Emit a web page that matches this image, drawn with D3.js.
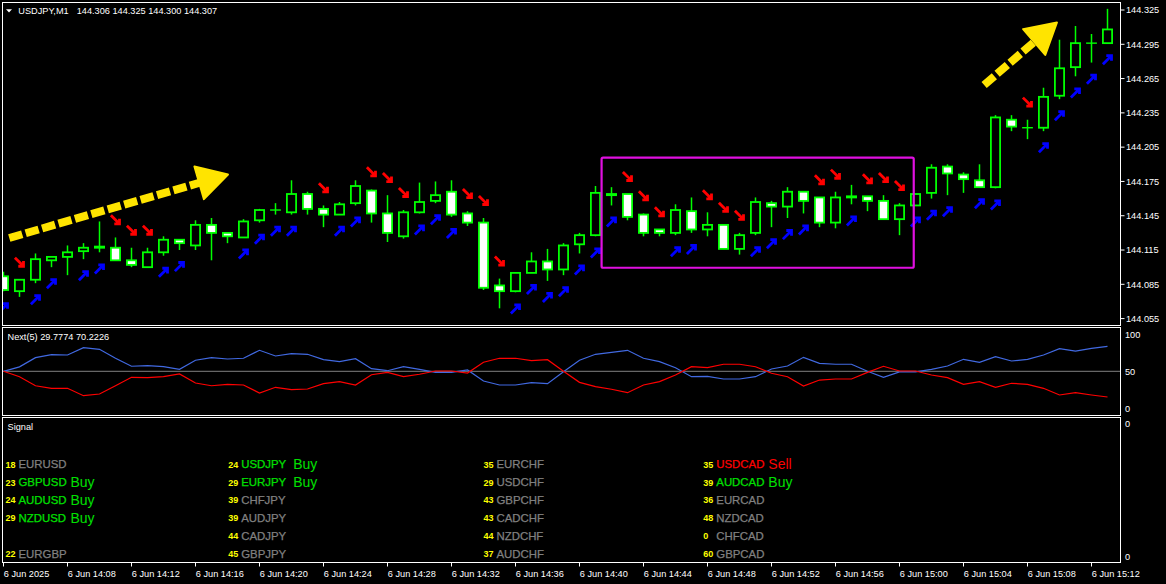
<!DOCTYPE html>
<html><head><meta charset="utf-8">
<script src="https://cdn.jsdelivr.net/npm/d3@7"></script>
<style>html,body{margin:0;padding:0;background:#000;}svg{display:block;}</style>
</head><body>
<svg id="c" width="1166" height="584"></svg>
<script>
// ---------------- DATA ----------------
const symbolLabel = "USDJPY,M1";
const headerOHLC = ["144.306", "144.325", "144.300", "144.307"];
const times = ["14:04","14:05","14:06","14:07","14:08","14:09","14:10","14:11","14:12","14:13",
"14:14","14:15","14:16","14:17","14:18","14:19","14:20","14:21","14:22","14:23",
"14:24","14:25","14:26","14:27","14:28","14:29","14:30","14:31","14:32","14:33",
"14:34","14:35","14:36","14:37","14:38","14:39","14:40","14:41","14:42","14:43",
"14:44","14:45","14:46","14:47","14:48","14:49","14:50","14:51","14:52","14:53",
"14:54","14:55","14:56","14:57","14:58","14:59","15:00","15:01","15:02","15:03",
"15:04","15:05","15:06","15:07","15:08","15:09","15:10","15:11","15:12","15:13"];
const open  = [144.092,144.079,144.089,144.106,144.109,144.114,144.117,144.117,144.106,144.100,
144.113,144.124,144.119,144.137,144.130,144.126,144.141,144.150,144.148,144.164,
144.151,144.146,144.156,144.167,144.147,144.127,144.148,144.158,144.166,144.147,
144.139,144.084,144.079,144.095,144.105,144.098,144.120,144.128,144.163,144.164,
144.146,144.133,144.130,144.149,144.133,144.137,144.116,144.130,144.156,144.153,
144.166,144.161,144.139,144.161,144.162,144.158,144.142,144.154,144.165,144.188,
144.181,144.176,144.170,144.229,144.222,144.222,144.250,144.275,144.296,144.296];
const high  = [144.096,144.089,144.112,144.109,144.119,144.121,144.140,144.126,144.117,144.117,
144.127,144.124,144.141,144.143,144.130,144.142,144.151,144.156,144.176,144.166,
144.154,144.157,144.176,144.168,144.163,144.150,144.174,144.175,144.176,144.149,
144.143,144.090,144.095,144.113,144.116,144.121,144.130,144.171,144.170,144.164,
144.147,144.133,144.155,144.161,144.148,144.137,144.130,144.161,144.158,144.170,
144.166,144.161,144.166,144.172,144.162,144.163,144.156,144.164,144.190,144.190,
144.183,144.190,144.233,144.233,144.229,144.257,144.299,144.311,144.304,144.326];
const low   = [144.079,144.074,144.086,144.100,144.093,144.107,144.113,144.106,144.100,144.100,
144.110,144.115,144.115,144.106,144.121,144.126,144.139,144.146,144.146,144.146,
144.135,144.146,144.154,144.139,144.122,144.125,144.147,144.156,144.144,144.136,
144.080,144.064,144.078,144.095,144.088,144.093,144.112,144.127,144.154,144.141,
144.127,144.127,144.128,144.130,144.127,144.116,144.111,144.128,144.135,144.143,
144.147,144.135,144.134,144.155,144.149,144.142,144.128,144.154,144.160,144.163,
144.165,144.170,144.169,144.219,144.212,144.219,144.247,144.267,144.279,144.296];
const close = [144.080,144.089,144.107,144.109,144.113,144.117,144.118,144.106,144.102,144.113,
144.124,144.121,144.137,144.130,144.127,144.140,144.150,144.150,144.164,144.151,
144.146,144.155,144.171,144.147,144.130,144.148,144.157,144.163,144.146,144.139,
144.082,144.079,144.095,144.105,144.098,144.119,144.128,144.165,144.164,144.144,
144.130,144.130,144.150,144.133,144.137,144.116,144.128,144.157,144.153,144.166,
144.158,144.139,144.161,144.162,144.158,144.142,144.154,144.164,144.187,144.182,
144.177,144.170,144.231,144.223,144.222,144.249,144.274,144.296,144.296,144.308];
const sellSignals = [1,7,8,9,20,23,24,25,29,30,31,39,40,41,44,45,46,51,52,54,55,56,64];
const buySignals  = [0,2,3,5,6,10,11,15,16,17,18,21,22,26,27,28,32,33,34,35,36,37,38,42,43,47,48,49,50,53,57,58,59,61,62,65,66,67,68,69];
const priceTicks = [144.325,144.295,144.265,144.235,144.205,144.175,144.145,144.115,144.085,144.055];
const tickTimes  = ["14:04","14:08","14:12","14:16","14:20","14:24","14:28","14:32","14:36","14:40","14:44","14:48","14:52","14:56","15:00","15:04","15:08","15:12"];
const tickLabels = ["6 Jun 2025","6 Jun 14:08","6 Jun 14:12","6 Jun 14:16","6 Jun 14:20","6 Jun 14:24","6 Jun 14:28","6 Jun 14:32","6 Jun 14:36","6 Jun 14:40","6 Jun 14:44","6 Jun 14:48","6 Jun 14:52","6 Jun 14:56","6 Jun 15:00","6 Jun 15:04","6 Jun 15:08","6 Jun 15:12"];
// annotation objects (bar index, price)
const rangeBox = {i0: 37.38, i1: 56.89, pTop: 144.1958, pBot: 144.0995};
const trendArrows = [
  {i0: 0.36, p0: 144.1255, i1: 14.03, p1: 144.1811},
  {i0: 61.29, p0: 144.2594, i1: 65.84, p1: 144.3141}
];
// indicator Next(5)
const indLabel = "Next(5) 29.7774 70.2226";
const nextBlue = [50,56,68.4,72.4,72,81.9,79.7,67.6,56.8,57.6,56.2,52.7,64.9,68.4,66.6,67.6,78.4,70.7,73.8,73,
65.7,63,67,53.5,50.8,56.2,52.7,48.6,48.6,51.8,36.9,31.5,31.5,34.6,33.3,49.5,65,73,75.7,78.4,
67.6,63,54.9,42.7,43.2,39.6,39.6,42.7,53.1,57.2,68.9,60.8,59.5,59.5,50,41.9,49.2,49.2,52.7,57.2,
66.2,62.2,69.7,63.9,66.2,72,80.5,77.4,81,83.8];
const nextRed = [50,42.7,30.5,27,27,17,19.3,30.5,41.9,41.4,42.7,46.4,34.2,30.5,32.4,31.5,20.7,28.4,25.2,26.1,
33.3,36,31.5,45.4,48.6,42.7,46,50.4,50.4,47.7,62.2,67.6,67.6,64.3,65.7,50,35.1,29.2,25.7,21.1,
31.5,36,45,56.2,54.9,59.5,59.5,56.2,47.3,42.7,30.1,38.2,39.6,39.6,48.6,56.8,50.4,50.4,45,41.4,
32.4,36,28.4,33.8,32.4,27,18,21.1,18,15.3];
const indTicks = [100, 50, 0];
// Signal panel
const col1Nums = [18,23,24,29,null,22];
const col1Pairs = ["EURUSD","GBPUSD","AUDUSD","NZDUSD","","EURGBP"];
const col1Sig = ["","Buy","Buy","Buy","",""];
const col2Nums = [24,29,39,39,44,45];
const col2Pairs = ["USDJPY","EURJPY","CHFJPY","AUDJPY","CADJPY","GBPJPY"];
const col2Sig = ["Buy","Buy","","","",""];
const col3Nums = [35,29,43,43,44,37];
const col3Pairs = ["EURCHF","USDCHF","GBPCHF","CADCHF","NZDCHF","AUDCHF"];
const col3Sig = ["","","","","",""];
const col4Nums = [35,39,36,48,0,60];
const col4Pairs = ["USDCAD","AUDCAD","EURCAD","NZDCAD","CHFCAD","GBPCAD"];
const col4Sig = ["Sell","Buy","","","",""];

// ---------------- LAYOUT / STYLE ----------------
const FONT = "'Liberation Sans', Arial, sans-serif";
const L = 2.5, R = 1120.5;
const mainT = 2.5, mainB = 325.5, indT = 327.5, indB = 415.5, sigT = 417.5, sigB = 562.5;
const GREEN = "#00ff00";

const svg = d3.select("#c");
svg.append("rect").attr("width", 1166).attr("height", 584).attr("fill", "#000");
const defs = svg.append("defs");
defs.append("clipPath").attr("id", "clipMain").append("rect").attr("x", L + 0.5).attr("y", mainT + 0.5).attr("width", R - L - 1).attr("height", mainB - mainT - 1);
defs.append("clipPath").attr("id", "clipInd").append("rect").attr("x", L + 0.5).attr("y", indT + 0.5).attr("width", R - L - 1).attr("height", indB - indT - 1);

const x = d3.scalePoint().domain(times).range([3.5, 1107.5]);
const xi = d3.scaleLinear().domain([0, times.length - 1]).range([3.5, 1107.5]);
const y = d3.scaleLinear().domain([144.055, 144.325]).range([318.6, 10]);
const yInd = d3.scaleLinear().domain([0, 100]).range([408.3, 334.3]);

// panel frames
[[mainT, mainB], [indT, indB], [sigT, sigB]].forEach(([t, b]) => {
  svg.append("rect").attr("x", L).attr("y", t).attr("width", R - L).attr("height", b - t)
    .attr("fill", "none").attr("stroke", "#fff").attr("stroke-width", 1);
});

// ---------------- MAIN PANEL ----------------
const gm = svg.append("g").attr("clip-path", "url(#clipMain)");
const bars = times.map((t, i) => ({t, o: open[i], h: high[i], l: low[i], c: close[i]}));

const cg = gm.append("g").selectAll("g").data(bars).join("g");
cg.append("line")
  .attr("x1", d => x(d.t)).attr("x2", d => x(d.t))
  .attr("y1", d => y(d.h)).attr("y2", d => y(d.l))
  .attr("stroke", GREEN).attr("stroke-width", 1.5);
cg.each(function(d) {
  const g = d3.select(this);
  const cx = x(d.t);
  if (d.o === d.c) {
    g.append("line").attr("x1", cx - 5.4).attr("x2", cx + 5.4)
      .attr("y1", y(d.o)).attr("y2", y(d.o)).attr("stroke", GREEN).attr("stroke-width", 1.4);
  } else {
    const top = y(Math.max(d.o, d.c)), bot = y(Math.min(d.o, d.c));
    g.append("rect").attr("x", cx - 4.6).attr("width", 9.2)
      .attr("y", top).attr("height", Math.max(bot - top, 0.6))
      .attr("fill", d.c > d.o ? "#000" : "#fff")
      .attr("stroke", GREEN).attr("stroke-width", 1.8);
  }
});

// signal arrows
function upArrow(cx, cy) {
  return `M${cx-4.6},${cy+4.6}L${cx+3.6},${cy-3.6}M${cx-1.2},${cy-4}L${cx+4},${cy-4}L${cx+4},${cy+1.2}`;
}
function downArrow(cx, cy) {
  return `M${cx-4.6},${cy-4.6}L${cx+3.6},${cy+3.6}M${cx+4},${cy-1.2}L${cx+4},${cy+4}L${cx-1.2},${cy+4}`;
}
gm.append("g").selectAll("path").data(buySignals).join("path")
  .attr("d", i => upArrow(x(times[i]), y(low[i]) + 16.5))
  .attr("fill", "none").attr("stroke", "#0000ff").attr("stroke-width", 2.8);
gm.append("g").selectAll("path").data(sellSignals).join("path")
  .attr("d", i => downArrow(x(times[i]), y(high[i]) - 17.5))
  .attr("fill", "none").attr("stroke", "#ff0000").attr("stroke-width", 2.8);

// range rectangle
gm.append("rect")
  .attr("x", xi(rangeBox.i0)).attr("y", y(rangeBox.pTop))
  .attr("width", xi(rangeBox.i1) - xi(rangeBox.i0)).attr("height", y(rangeBox.pBot) - y(rangeBox.pTop))
  .attr("rx", 1.5).attr("fill", "none").attr("stroke", "#e010e0").attr("stroke-width", 2.2);

// trend arrows
const YEL = "#ffe400";
trendArrows.forEach(a => {
  const sx = xi(a.i0), sy = y(a.p0), tx = xi(a.i1), ty = y(a.p1);
  const len = Math.hypot(tx - sx, ty - sy);
  const ux = (tx - sx) / len, uy = (ty - sy) / len;
  const HL = 30, HW = 17;
  const bx = tx - ux * HL, by = ty - uy * HL;
  gm.append("line").attr("x1", sx).attr("y1", sy).attr("x2", bx + ux * 3).attr("y2", by + uy * 3)
    .attr("stroke", YEL).attr("stroke-width", 8).attr("stroke-dasharray", "13.5,3.6");
  gm.append("path")
    .attr("d", `M${tx},${ty}L${bx - uy * HW},${by + ux * HW}L${bx + uy * HW},${by - ux * HW}Z`)
    .attr("fill", YEL).attr("stroke", YEL).attr("stroke-width", 2).attr("stroke-linejoin", "round");
});

// header
svg.append("path").attr("d", "M6,9.3L12,9.3L9,12.6Z").attr("fill", "#fff");
svg.append("text").attr("x", 18.3).attr("y", 13.7).text(symbolLabel)
  .attr("fill", "#fff").attr("font-family", FONT).attr("font-size", 9.2);
svg.append("text").attr("x", 76.7).attr("y", 13.7).text(headerOHLC.join(" "))
  .attr("fill", "#fff").attr("font-family", FONT).attr("font-size", 9.2);

// price axis
const pa = svg.append("g");
pa.selectAll("line").data(priceTicks).join("line")
  .attr("x1", R).attr("x2", R + 4).attr("y1", d => y(d)).attr("y2", d => y(d))
  .attr("stroke", "#fff").attr("stroke-width", 1);
pa.selectAll("text").data(priceTicks).join("text")
  .attr("x", 1126).attr("y", d => y(d) + 3.3).text(d => d.toFixed(3))
  .attr("fill", "#fff").attr("font-family", FONT).attr("font-size", 9.2);

// ---------------- INDICATOR PANEL ----------------
const gi = svg.append("g").attr("clip-path", "url(#clipInd)");
gi.append("line").attr("x1", L).attr("x2", R).attr("y1", yInd(50)).attr("y2", yInd(50))
  .attr("stroke", "#808080").attr("stroke-width", 1);
const ln = d3.line().x((v, i) => x(times[i])).y(v => yInd(v));
gi.append("path").attr("d", ln(nextBlue)).attr("fill", "none").attr("stroke", "#4169e1").attr("stroke-width", 1.2);
gi.append("path").attr("d", ln(nextRed)).attr("fill", "none").attr("stroke", "#ff0000").attr("stroke-width", 1.2);
svg.append("text").attr("x", 7.5).attr("y", 339.8).text(indLabel)
  .attr("fill", "#fff").attr("font-family", FONT).attr("font-size", 9.2);
svg.append("g").selectAll("text").data(indTicks).join("text")
  .attr("x", 1125).attr("y", d => yInd(d) + 3.3).text(d => d)
  .attr("fill", "#fff").attr("font-family", FONT).attr("font-size", 9.2);

// ---------------- SIGNAL PANEL ----------------
svg.append("text").attr("x", 7.5).attr("y", 429.8).text("Signal")
  .attr("fill", "#fff").attr("font-family", FONT).attr("font-size", 9.2);
[424, 557].forEach(v => svg.append("text").attr("x", 1125).attr("y", v + 3.3).text("0")
  .attr("fill", "#fff").attr("font-family", FONT).attr("font-size", 9.2));

const rowY = d3.scaleLinear().domain([0, 5]).range([468.3, 557.7]);
const columns = [
  {nx: 5.5, px: 18.5, nums: col1Nums, pairs: col1Pairs, sig: col1Sig},
  {nx: 228.3, px: 241.2, nums: col2Nums, pairs: col2Pairs, sig: col2Sig},
  {nx: 483.5, px: 496.5, nums: col3Nums, pairs: col3Pairs, sig: col3Sig},
  {nx: 703.3, px: 716.3, nums: col4Nums, pairs: col4Pairs, sig: col4Sig}
];
const sigColor = s => s === "Buy" ? "#00e000" : (s === "Sell" ? "#ff0000" : "#808080");
columns.forEach(col => {
  col.pairs.forEach((p, r) => {
    if (!p) return;
    const by = rowY(r);
    svg.append("text").attr("x", col.nx).attr("y", by - 0.6).text(col.nums[r])
      .attr("fill", "#ffff00").attr("font-family", FONT).attr("font-size", 9).attr("font-weight", "bold");
    svg.append("text").attr("x", col.px).attr("y", by).text(p)
      .attr("fill", sigColor(col.sig[r])).attr("font-family", FONT).attr("font-size", 11.4)
      .attr("stroke", sigColor(col.sig[r])).attr("stroke-width", 0.25);
    if (col.sig[r]) {
      svg.append("text").attr("x", col.px + 52).attr("y", by + 0.6).text(col.sig[r])
        .attr("fill", sigColor(col.sig[r])).attr("font-family", FONT).attr("font-size", 14);
    }
  });
});

// ---------------- TIME AXIS ----------------
const ta = svg.append("g");
ta.selectAll("line").data(tickTimes).join("line")
  .attr("x1", d => x(d)).attr("x2", d => x(d)).attr("y1", sigB).attr("y2", sigB + 4)
  .attr("stroke", "#fff").attr("stroke-width", 1);
ta.selectAll("text").data(tickTimes).join("text")
  .attr("x", d => x(d) + 0.3).attr("y", 576.5).text((d, i) => tickLabels[i])
  .attr("fill", "#fff").attr("font-family", FONT).attr("font-size", 9.2);
</script>
</body></html>
